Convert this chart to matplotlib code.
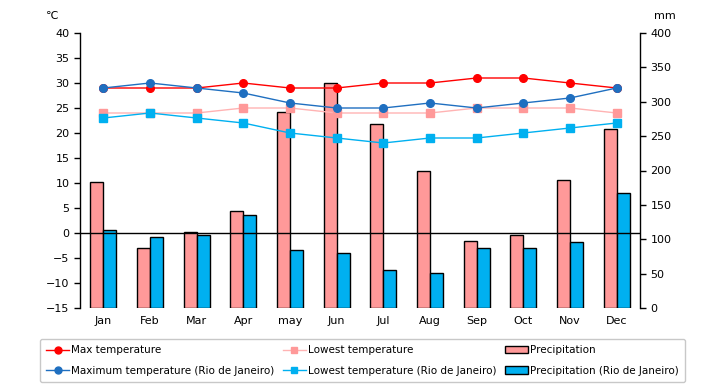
import matplotlib
matplotlib.use("Agg")
import matplotlib.pyplot as plt
import numpy as np
from matplotlib.lines import Line2D
from matplotlib.patches import Patch

months = ["Jan", "Feb", "Mar", "Apr", "may", "Jun", "Jul", "Aug", "Sep", "Oct", "Nov", "Dec"]
max_temp = [29, 29, 29, 30, 29, 29, 30, 30, 31, 31, 30, 29]
low_temp = [24, 24, 24, 25, 25, 24, 24, 24, 25, 25, 25, 24]
precip = [184, 88, 110, 141, 285, 327, 267, 200, 97, 106, 186, 261]
rio_max = [29, 30, 29, 28, 26, 25, 25, 26, 25, 26, 27, 29]
rio_low = [23, 24, 23, 22, 20, 19, 18, 19, 19, 20, 21, 22]
rio_precip = [113, 104, 106, 136, 85, 80, 55, 51, 87, 87, 96, 168]

plt.rcParams['font.family'] = ['DejaVu Sans']
fig = plt.figure(figsize=(7.2, 3.85), dpi=100)
ax1 = fig.add_axes([80/720, 1-308/385, 560/720, 275/385])
ax2 = ax1.twinx()
ax1.set_zorder(2)
ax1.patch.set_visible(False)
ax2.set_facecolor('#FFFFCC')

x = np.arange(len(months))
w = 0.28
ax2.bar(x - w/2, precip, w, color='#FF9999', edgecolor='black', linewidth=1)
ax2.bar(x + w/2, rio_precip, w, color='#00B0F0', edgecolor='black', linewidth=1)
ax2.set_ylim(0, 400)
ax2.set_yticks(range(0, 401, 50))

ax1.axhline(0, color='black', linewidth=1)
ax1.plot(x, max_temp, color='#FF0000', lw=1, marker='o', ms=5.5)
ax1.plot(x, low_temp, color='#FFB3B3', lw=1, marker='s', ms=5.5, mfc='#FF9999', mec='#FF9999')
ax1.plot(x, rio_max, color='#1F6FC0', lw=1, marker='o', ms=5.5)
ax1.plot(x, rio_low, color='#00B0F0', lw=1, marker='s', ms=5.5)
ax1.set_ylim(-15, 40)
ax1.set_yticks(range(-15, 41, 5))
ax1.set_xlim(-0.5, 11.5)
ax1.set_xticks(x)
ax1.set_xticklabels(months)

for a in (ax1, ax2):
    a.spines['top'].set_visible(False)
    a.spines['bottom'].set_visible(False)
    a.tick_params(labelsize=8, length=4, width=1)
ax1.tick_params(axis='x', length=0, pad=6)
ax1.spines['right'].set_visible(False)
ax2.spines['left'].set_visible(False)
ax1.spines['left'].set_linewidth(1)
ax2.spines['right'].set_linewidth(1)

fig.text(52/720, 1-16/385, "℃", fontsize=8, ha='center', va='center')
fig.text(665/720, 1-16/385, "mm", fontsize=8, ha='center', va='center')

handles = [
    Line2D([], [], color='#FF0000', marker='o', ms=5, lw=1),
    Line2D([], [], color='#1F6FC0', marker='o', ms=5, lw=1),
    Line2D([], [], color='#FFB3B3', marker='s', ms=5, lw=1, mfc='#FF9999', mec='#FF9999'),
    Line2D([], [], color='#00B0F0', marker='s', ms=5, lw=1),
    Patch(facecolor='#FF9999', edgecolor='black'),
    Patch(facecolor='#00B0F0', edgecolor='black'),
]
labels = ["Max temperature", "Maximum temperature (Rio de Janeiro)",
          "Lowest temperature", "Lowest temperature (Rio de Janeiro)",
          "Precipitation", "Precipitation (Rio de Janeiro)"]
leg = fig.legend(handles, labels, ncol=3, loc='lower left',
                 bbox_to_anchor=(40/720, 3/385, 645/720, 50/385), mode='expand',
                 fontsize=7.5, frameon=True, fancybox=True, edgecolor='#BBBBBB',
                 handlelength=2.2, handletextpad=0.2, columnspacing=0.5,
                 labelspacing=1.0, borderpad=0.6, borderaxespad=0)
leg.get_frame().set_linewidth(1)

fig.savefig("out.png", dpi=100)
